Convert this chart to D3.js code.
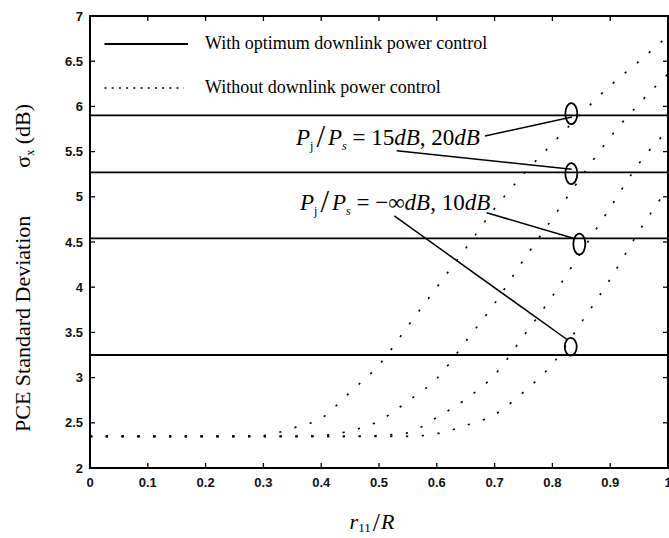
<!DOCTYPE html>
<html><head><meta charset="utf-8">
<script src="https://cdn.jsdelivr.net/npm/d3@7"></script>
<style>body{margin:0;background:#fff}svg{display:block}</style>
</head><body>
<svg id="c" width="669" height="538"></svg>
<script>
// ---- data ----
const rR = [0,0.05,0.1,0.15,0.2,0.25,0.3,0.35,0.4,0.45,0.5,0.55,0.6,0.65,0.7,0.75,0.8,0.85,0.9,0.95,1.0];
const noPcA = [2.35,2.35,2.35,2.35,2.35,2.35,2.36,2.44,2.55,2.84,3.14,3.57,4.00,4.43,4.87,5.25,5.59,5.92,6.23,6.50,6.78];
const noPcB = [2.35,2.35,2.35,2.35,2.35,2.35,2.35,2.35,2.36,2.41,2.52,2.74,2.99,3.40,3.82,4.30,4.76,5.22,5.66,6.03,6.36];
const noPcC = [2.35,2.35,2.35,2.35,2.35,2.35,2.35,2.35,2.35,2.35,2.36,2.39,2.56,2.76,3.03,3.46,3.90,4.39,4.88,5.37,5.74];
const noPcD = [2.35,2.35,2.35,2.35,2.35,2.35,2.35,2.35,2.35,2.35,2.35,2.35,2.38,2.47,2.59,2.84,3.15,3.61,4.09,4.62,5.10];
const optPc = [5.90,5.27,4.54,3.25];
const xTickVals = [0,0.1,0.2,0.3,0.4,0.5,0.6,0.7,0.8,0.9,1];
const xTickLabels = ["0","0.1","0.2","0.3","0.4","0.5","0.6","0.7","0.8","0.9","1"];
const yTickVals = [2,2.5,3,3.5,4,4.5,5,5.5,6,6.5,7];
const yTickLabels = ["2","2.5","3","3.5","4","4.5","5","5.5","6","6.5","7"];
const legendLabels = ["With optimum downlink power control","Without downlink power control"];
// annotation ellipses (data coords) and leader lines
const ellipses = [[0.8327,5.92],[0.8327,5.257],[0.8466,4.477],[0.8317,3.342]];
const leaders = [[[0.6834,5.673],[0.8339,5.883]],[[0.5306,5.51],[0.8334,5.304]],[[0.6863,4.824],[0.8362,4.541]],[[0.5265,4.788],[0.8265,3.416]]];
const annoPos = [[0.3564,5.573],[0.3633,4.854]];

// ---- chart ----
const svg = d3.select("#c");
const L=90, R=668, T=16, B=468;
const x = d3.scaleLinear().domain([0,1]).range([L,R]);
const y = d3.scaleLinear().domain([2,7]).range([B,T]);
const serif = "'Liberation Serif','Times New Roman',serif";
const sans = "'Liberation Sans',Arial,sans-serif";

// ticks (inward)
const tl=5;
const g = svg.append("g").attr("stroke","#000").attr("stroke-width",1.3);
xTickVals.forEach(v=>{
  g.append("line").attr("x1",x(v)).attr("x2",x(v)).attr("y1",B).attr("y2",B-tl);
  g.append("line").attr("x1",x(v)).attr("x2",x(v)).attr("y1",T).attr("y2",T+tl);
});
yTickVals.forEach(v=>{
  g.append("line").attr("x1",L).attr("x2",L+tl).attr("y1",y(v)).attr("y2",y(v));
  g.append("line").attr("x1",R).attr("x2",R-tl).attr("y1",y(v)).attr("y2",y(v));
});
// tick labels
svg.append("g").selectAll("text").data(xTickVals).join("text")
  .attr("x",d=>x(d)).attr("y",487).attr("text-anchor","middle")
  .attr("font-family",sans).attr("font-size",13).attr("font-weight","bold").attr("fill","#111")
  .text((d,i)=>xTickLabels[i]);
svg.append("g").selectAll("text").data(yTickVals).join("text")
  .attr("x",83).attr("y",d=>y(d)+4.5).attr("text-anchor","end")
  .attr("font-family",sans).attr("font-size",13).attr("font-weight","bold").attr("fill","#111")
  .text((d,i)=>yTickLabels[i]);

// optimum power control lines
svg.append("g").selectAll("line").data(optPc).join("line")
  .attr("x1",x(0)).attr("x2",x(1)).attr("y1",d=>y(d)).attr("y2",d=>y(d))
  .attr("stroke","#000").attr("stroke-width",1.8);

// dotted curves
const line = d3.line().x((d,i)=>x(rR[i])).y(d=>y(d)).curve(d3.curveMonotoneX);
[noPcA,noPcB,noPcC,noPcD].forEach(s=>{
  svg.append("path").attr("d",line(s)).attr("fill","none").attr("stroke","#000")
    .attr("stroke-width",1.6).attr("stroke-dasharray","2.2,13.6");
});

// frame
svg.append("rect").attr("x",L).attr("y",T).attr("width",R-L).attr("height",B-T)
  .attr("fill","none").attr("stroke","#000").attr("stroke-width",2);

// legend
svg.append("line").attr("x1",104.5).attr("x2",188).attr("y1",44).attr("y2",44).attr("stroke","#000").attr("stroke-width",1.8);
svg.append("line").attr("x1",104.5).attr("x2",184).attr("y1",88).attr("y2",88).attr("stroke","#000").attr("stroke-width",1.6).attr("stroke-dasharray","2,5.2");
legendLabels.forEach((t,i)=>{
  svg.append("text").attr("x",205).attr("y",49+i*44).attr("font-family",serif).attr("font-size",18).text(t);
});

// annotations
svg.append("g").selectAll("ellipse").data(ellipses).join("ellipse")
  .attr("cx",d=>x(d[0])).attr("cy",d=>y(d[1])).attr("rx",6).attr("ry",(d,i)=>i===3?8.8:10.5)
  .attr("fill","none").attr("stroke","#000").attr("stroke-width",1.8);
svg.append("g").selectAll("line").data(leaders).join("line")
  .attr("x1",d=>x(d[0][0])).attr("y1",d=>y(d[0][1])).attr("x2",d=>x(d[1][0])).attr("y2",d=>y(d[1][1]))
  .attr("stroke","#000").attr("stroke-width",1.5);

function anno(pos, parts){
  const t = svg.append("text").attr("x",x(pos[0])).attr("y",y(pos[1]))
    .attr("font-family",serif).attr("font-size",23);
  parts.forEach(p=>{
    const s=t.append("tspan").text(p.t);
    if(p.i) s.attr("font-style","italic");
    if(p.fs) s.attr("font-size",p.fs);
    if(p.dy) s.attr("dy",p.dy);
    if(p.dx) s.attr("dx",p.dx);
  });
}
anno(annoPos[0],[
  {t:"P",i:1},{t:"j",fs:12,dy:5},{t:"/",fs:31,dy:-3,dx:3},{t:"P",i:1,dy:-2,dx:3},{t:"s",i:1,fs:12,dy:5},
  {t:" = 15",dy:-5},{t:"dB",i:1},{t:", 20"},{t:"dB",i:1}]);
anno(annoPos[1],[
  {t:"P",i:1},{t:"j",fs:12,dy:5},{t:"/",fs:31,dy:-3,dx:3},{t:"P",i:1,dy:-2,dx:3},{t:"s",i:1,fs:12,dy:5},
  {t:" = \u2212\u221E",dy:-5},{t:"dB",i:1},{t:", 10"},{t:"dB",i:1}]);

// axis titles
const xt = svg.append("text").attr("x",372).attr("y",529).attr("text-anchor","middle").attr("font-family",serif).attr("font-size",22);
xt.append("tspan").attr("font-style","italic").text("r");
xt.append("tspan").attr("font-size",13).attr("dy",3).text("11");
xt.append("tspan").attr("font-size",26).attr("dy",-1).attr("dx",2).text("/");
xt.append("tspan").attr("font-style","italic").attr("dy",-2).attr("dx",1).text("R");

const yt = svg.append("text").attr("transform","translate(30,432) rotate(-90)").attr("text-anchor","start")
  .attr("font-family",serif).attr("font-size",22);
yt.append("tspan").text("PCE Standard Deviation");
yt.append("tspan").attr("dx",48).text("\u03C3");
yt.append("tspan").attr("font-size",12).attr("dy",4).text("x");
yt.append("tspan").attr("dy",-4).text(" (dB)");
</script>
</body></html>
